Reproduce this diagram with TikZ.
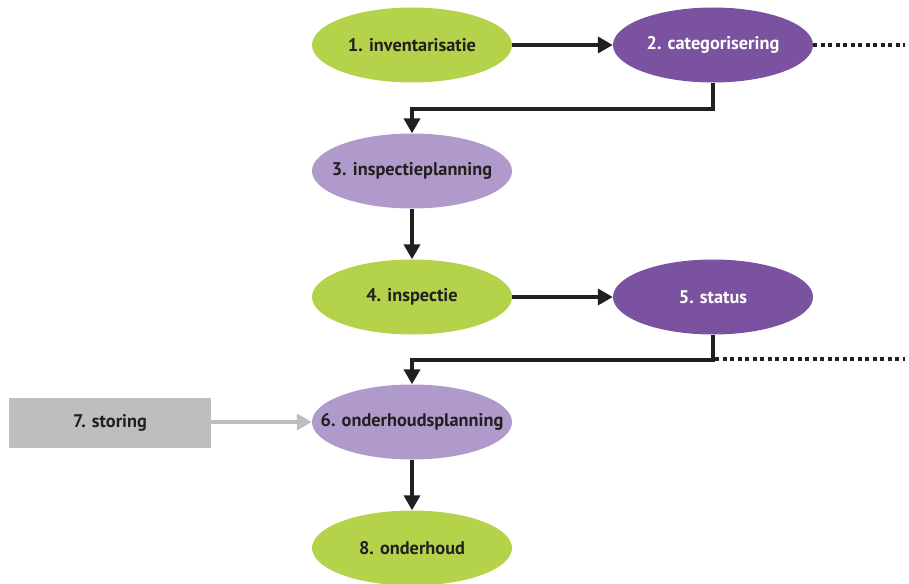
\documentclass[tikz,border=0pt]{standalone}
\usepackage{fontspec}
\setmainfont{PT Sans}
\usetikzlibrary{shapes.geometric,arrows.meta}

\definecolor{stepgreen}{HTML}{B5D34A}
\definecolor{steppurple}{HTML}{7B52A0}
\definecolor{steplilac}{HTML}{B09ACB}
\definecolor{stepgrey}{HTML}{BDBEC0}
\definecolor{lineblack}{HTML}{231F20}

\begin{document}
\begin{tikzpicture}[
    x=1pt, y=-1pt,
    label font/.style={font={\fontsize{18.3}{21}\selectfont\bfseries}, text=lineblack},
    phase/.style={ellipse, minimum width=200pt, minimum height=75pt, inner xsep=-40pt, inner ysep=0pt, label font},
    green/.style={phase, fill=stepgreen},
    purple/.style={phase, fill=steppurple, text=white},
    lilac/.style={phase, fill=steplilac},
    arrow/.style={line width=4pt, draw=lineblack, -{Triangle[length=15pt,width=16pt]}},
    grey arrow/.style={line width=4pt, draw=stepgrey, -{Triangle[length=15pt,width=16pt]}},
    loose end/.style={line width=4pt, draw=lineblack, dash pattern=on 4pt off 3.5pt}
]

    \useasboundingbox (0,0) rectangle (909,583);

    % Draw phases
    \node [green]  (inventory)  at (412,45)  {1. inventarisatie};
    \node [purple] (categories) at (713,45)  {2. categorisering};
    \node [lilac]  (inspplan)   at (412,171) {3. inspectieplanning};
    \node [green]  (inspection) at (412,297) {4. inspectie};
    \node [purple] (status)     at (713,297) {5. status};
    \node [lilac]  (maintplan)  at (412,422) {6. onderhoudsplanning};
    \node [green]  (maintenance) at (412,548) {8. onderhoud};
    \node [fill=stepgrey, minimum width=202pt, minimum height=50pt, inner sep=0pt, label font]
        (failure) at (110,423) {7. storing};

    % Draw loose ends
    \coordinate (catend) at (905,45);
    \coordinate (statend) at (905,359);

    % Draw arrows
    \draw [arrow] (inventory) -- (categories);
    \draw [arrow] (categories.south) -- ++(0,26) -| (inspplan.north);
    \draw [arrow] (inspplan) -- (inspection);
    \draw [arrow] (inspection) -- (status);
    \draw [arrow] (status.south) -- ++(0,25) -| (maintplan.north);
    \draw [arrow] (maintplan) -- (maintenance);
    \draw [grey arrow] (failure.east |- maintplan) -- (maintplan);

    % Draw dotted continuations
    \draw [loose end] (categories.east) -- (catend);
    \draw [loose end] (status.south |- statend) ++(2,0) -- (statend);

\end{tikzpicture}
\end{document}
